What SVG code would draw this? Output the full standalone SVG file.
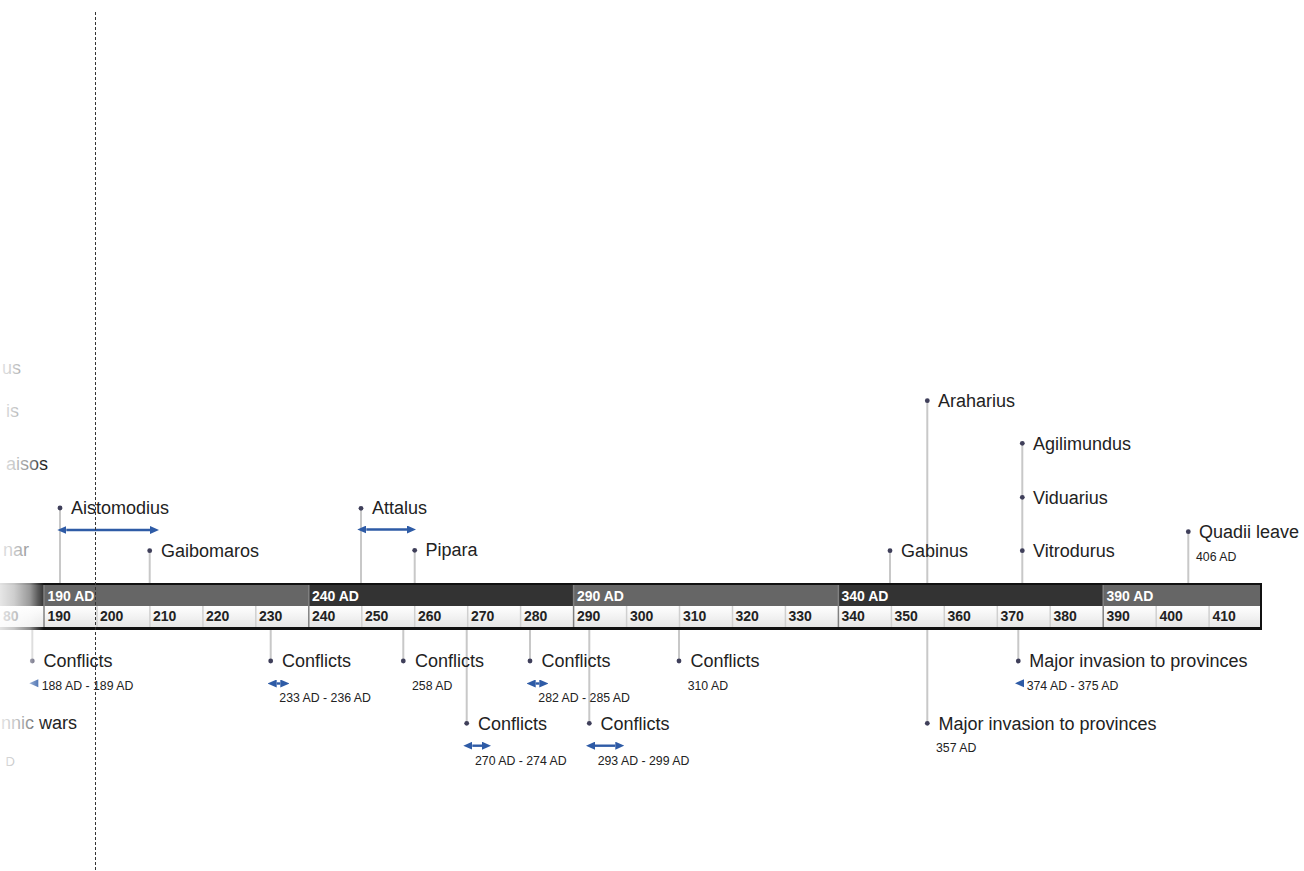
<svg xmlns="http://www.w3.org/2000/svg" width="1304" height="871" viewBox="0 0 1304 871">
<style>
.t{font-family:"Liberation Sans",Arial,sans-serif;font-size:18px;fill:#222}
.d{font-family:"Liberation Sans",Arial,sans-serif;font-size:12.3px;fill:#222}
.ax{font-family:"Liberation Sans",Arial,sans-serif;font-size:14px;font-weight:bold}
.axt{fill:#fff}
.axb{fill:#222}
.dot{fill:#3f3f5a}
.stem{stroke:#c8c8c8;stroke-width:2;fill:none}
.span{stroke:#2e5ba6;stroke-width:2.4;fill:none;marker-start:url(#ah);marker-end:url(#ah)}
.head{fill:#2e5ba6}
.tick{stroke:#d0d0d0;stroke-width:1.5}
.bnd{stroke:#808080;stroke-width:1.5}
.dk{fill:#333}
.gy{fill:#666}
</style>
<defs>
<marker id="ah" viewBox="0 0 9 8" refX="0" refY="4" markerWidth="9" markerHeight="8" markerUnits="userSpaceOnUse" orient="auto-start-reverse">
<path d="M0,0 L9,4 L0,8 z" fill="#2e5ba6"/>
</marker>
<linearGradient id="low" x1="0" y1="0" x2="0" y2="1">
<stop offset="0" stop-color="#ffffff"/>
<stop offset="1" stop-color="#e6e6e6"/>
</linearGradient>
<linearGradient id="fade" x1="0" y1="0" x2="1" y2="0">
<stop offset="0" stop-color="#fff" stop-opacity="0.88"/>
<stop offset="0.32" stop-color="#fff" stop-opacity="0.76"/>
<stop offset="0.68" stop-color="#fff" stop-opacity="0.5"/>
<stop offset="0.86" stop-color="#fff" stop-opacity="0.2"/>
<stop offset="1" stop-color="#fff" stop-opacity="0"/>
</linearGradient>
</defs>
<rect x="0" y="0" width="1304" height="871" fill="#fff"/>

<g id="connectors">
<line class="stem" x1="60" y1="508" x2="60" y2="583"/>
<line class="stem" x1="149.7" y1="551" x2="149.7" y2="583"/>
<line class="stem" x1="361" y1="508" x2="361" y2="583"/>
<line class="stem" x1="414.7" y1="550" x2="414.7" y2="583"/>
<line class="stem" x1="890" y1="551" x2="890" y2="583"/>
<line class="stem" x1="927.3" y1="401" x2="927.3" y2="583"/>
<line class="stem" x1="1022.3" y1="443" x2="1022.3" y2="583"/>
<line class="stem" x1="1188.3" y1="532" x2="1188.3" y2="583"/>
<line class="stem" x1="32.3" y1="630" x2="32.3" y2="661"/>
<line class="stem" x1="270.7" y1="630" x2="270.7" y2="661"/>
<line class="stem" x1="403.3" y1="630" x2="403.3" y2="661"/>
<line class="stem" x1="466.7" y1="630" x2="466.7" y2="723"/>
<line class="stem" x1="530" y1="630" x2="530" y2="661"/>
<line class="stem" x1="589.3" y1="630" x2="589.3" y2="723"/>
<line class="stem" x1="679" y1="630" x2="679" y2="661"/>
<line class="stem" x1="927.3" y1="630" x2="927.3" y2="723"/>
<line class="stem" x1="1018.3" y1="630" x2="1018.3" y2="661"/>
</g>

<g id="axis">
<rect class="dk" x="-10" y="585" width="54" height="21"/>
<rect class="gy" x="44" y="585" width="264.8" height="21"/>
<rect class="dk" x="308.8" y="585" width="264.8" height="21"/>
<rect class="gy" x="573.6" y="585" width="264.8" height="21"/>
<rect class="dk" x="838.4" y="585" width="264.8" height="21"/>
<rect class="gy" x="1103.2" y="585" width="157.8" height="21"/>
<rect x="-10" y="606" width="1271" height="21" fill="url(#low)"/>
<g>
<line class="tick" x1="97" y1="606" x2="97" y2="627"/>
<line class="tick" x1="149.9" y1="606" x2="149.9" y2="627"/>
<line class="tick" x1="202.9" y1="606" x2="202.9" y2="627"/>
<line class="tick" x1="255.8" y1="606" x2="255.8" y2="627"/>
<line class="tick" x1="361.8" y1="606" x2="361.8" y2="627"/>
<line class="tick" x1="414.7" y1="606" x2="414.7" y2="627"/>
<line class="tick" x1="467.7" y1="606" x2="467.7" y2="627"/>
<line class="tick" x1="520.6" y1="606" x2="520.6" y2="627"/>
<line class="tick" x1="626.6" y1="606" x2="626.6" y2="627"/>
<line class="tick" x1="679.5" y1="606" x2="679.5" y2="627"/>
<line class="tick" x1="732.5" y1="606" x2="732.5" y2="627"/>
<line class="tick" x1="785.4" y1="606" x2="785.4" y2="627"/>
<line class="tick" x1="891.4" y1="606" x2="891.4" y2="627"/>
<line class="tick" x1="944.3" y1="606" x2="944.3" y2="627"/>
<line class="tick" x1="997.3" y1="606" x2="997.3" y2="627"/>
<line class="tick" x1="1050.2" y1="606" x2="1050.2" y2="627"/>
<line class="tick" x1="1156.2" y1="606" x2="1156.2" y2="627"/>
<line class="tick" x1="1209.1" y1="606" x2="1209.1" y2="627"/>
<line class="bnd" x1="44" y1="585" x2="44" y2="627"/>
<line class="bnd" x1="308.8" y1="585" x2="308.8" y2="627"/>
<line class="bnd" x1="573.6" y1="585" x2="573.6" y2="627"/>
<line class="bnd" x1="838.4" y1="585" x2="838.4" y2="627"/>
<line class="bnd" x1="1103.2" y1="585" x2="1103.2" y2="627"/>
</g>
<line x1="-10" y1="584" x2="1262" y2="584" stroke="#111" stroke-width="2"/>
<rect x="-10" y="627" width="1272" height="3" fill="#111"/>
<line x1="1261" y1="583" x2="1261" y2="630" stroke="#111" stroke-width="2"/>
<text class="ax axt" x="47.5" y="601">190 AD</text>
<text class="ax axt" x="312" y="601">240 AD</text>
<text class="ax axt" x="577" y="601">290 AD</text>
<text class="ax axt" x="841.5" y="601">340 AD</text>
<text class="ax axt" x="1106.5" y="601">390 AD</text>
<text class="ax axb" x="3" y="621">80</text>
<text class="ax axb" x="47.5" y="621">190</text>
<text class="ax axb" x="100" y="621">200</text>
<text class="ax axb" x="153" y="621">210</text>
<text class="ax axb" x="206" y="621">220</text>
<text class="ax axb" x="259" y="621">230</text>
<text class="ax axb" x="312" y="621">240</text>
<text class="ax axb" x="365" y="621">250</text>
<text class="ax axb" x="418" y="621">260</text>
<text class="ax axb" x="471" y="621">270</text>
<text class="ax axb" x="524" y="621">280</text>
<text class="ax axb" x="577" y="621">290</text>
<text class="ax axb" x="630" y="621">300</text>
<text class="ax axb" x="683" y="621">310</text>
<text class="ax axb" x="735.5" y="621">320</text>
<text class="ax axb" x="788.5" y="621">330</text>
<text class="ax axb" x="841.5" y="621">340</text>
<text class="ax axb" x="894.5" y="621">350</text>
<text class="ax axb" x="947.5" y="621">360</text>
<text class="ax axb" x="1000.5" y="621">370</text>
<text class="ax axb" x="1053.5" y="621">380</text>
<text class="ax axb" x="1106.5" y="621">390</text>
<text class="ax axb" x="1159.5" y="621">400</text>
<text class="ax axb" x="1212.5" y="621">410</text>
</g>

<g id="ev-left-1"><text class="t" x="21" y="374" text-anchor="end">us</text></g>
<g id="ev-left-2"><text class="t" x="19" y="417" text-anchor="end">is</text></g>
<g id="ev-left-3"><text class="t" x="48" y="470" text-anchor="end">aisos</text></g>
<g id="ev-left-4"><text class="t" x="29" y="556" text-anchor="end">nar</text></g>
<g id="ev-left-5"><text class="t" x="77" y="729" text-anchor="end">nnic wars</text><text class="d" x="15" y="766" text-anchor="end" style="font-size:13px">D</text></g>

<g id="ev-aistomodius">
<circle class="dot" cx="60" cy="508" r="2.4"/>
<text class="t" x="71" y="514">Aistomodius</text>
<line class="span" x1="66.3" y1="530" x2="150" y2="530"/>
</g>
<g id="ev-gaibomaros">
<circle class="dot" cx="149.7" cy="550.7" r="2.4"/>
<text class="t" x="161" y="557">Gaibomaros</text>
</g>
<g id="ev-attalus">
<circle class="dot" cx="361" cy="508.3" r="2.4"/>
<text class="t" x="372" y="514">Attalus</text>
<line class="span" x1="366.3" y1="529.5" x2="407" y2="529.5"/>
</g>
<g id="ev-pipara">
<circle class="dot" cx="414.7" cy="550.3" r="2.4"/>
<text class="t" x="425.5" y="556">Pipara</text>
</g>
<g id="ev-gabinus">
<circle class="dot" cx="890" cy="550.7" r="2.4"/>
<text class="t" x="901" y="557">Gabinus</text>
</g>
<g id="ev-araharius">
<circle class="dot" cx="927.3" cy="400.7" r="2.4"/>
<text class="t" x="938" y="407">Araharius</text>
</g>
<g id="ev-agilimundus">
<circle class="dot" cx="1022.3" cy="443.3" r="2.4"/>
<text class="t" x="1033" y="449.5">Agilimundus</text>
</g>
<g id="ev-viduarius">
<circle class="dot" cx="1022.3" cy="497.3" r="2.4"/>
<text class="t" x="1033" y="503.5">Viduarius</text>
</g>
<g id="ev-vitrodurus">
<circle class="dot" cx="1022.3" cy="550.7" r="2.4"/>
<text class="t" x="1033" y="557">Vitrodurus</text>
</g>
<g id="ev-quadii">
<circle class="dot" cx="1188.3" cy="531.7" r="2.4"/>
<text class="t" x="1199" y="538">Quadii leave</text>
<text class="d" x="1196" y="561">406 AD</text>
</g>

<g id="ev-conflicts-188">
<circle class="dot" cx="32.3" cy="661" r="2.4"/>
<text class="t" x="43.5" y="667">Conflicts</text>
<polygon class="head" points="29.3,683.3 38.3,679.3 38.3,687.3"/>
<text class="d" x="41.7" y="690">188 AD - 189 AD</text>
</g>
<g id="ev-conflicts-233">
<circle class="dot" cx="270.7" cy="661" r="2.4"/>
<text class="t" x="282" y="667">Conflicts</text>
<line class="span" x1="276.7" y1="683.5" x2="280.3" y2="683.5"/>
<text class="d" x="279.3" y="702">233 AD - 236 AD</text>
</g>
<g id="ev-conflicts-258">
<circle class="dot" cx="403.3" cy="661" r="2.4"/>
<text class="t" x="415" y="667">Conflicts</text>
<text class="d" x="412" y="690">258 AD</text>
</g>
<g id="ev-conflicts-270">
<circle class="dot" cx="466.7" cy="723.3" r="2.4"/>
<text class="t" x="478" y="729.5">Conflicts</text>
<line class="span" x1="472.3" y1="745.7" x2="482" y2="745.7"/>
<text class="d" x="475" y="764.5">270 AD - 274 AD</text>
</g>
<g id="ev-conflicts-282">
<circle class="dot" cx="530" cy="661" r="2.4"/>
<text class="t" x="541.5" y="667">Conflicts</text>
<line class="span" x1="535.7" y1="683.5" x2="539.3" y2="683.5"/>
<text class="d" x="538.3" y="702">282 AD - 285 AD</text>
</g>
<g id="ev-conflicts-293">
<circle class="dot" cx="589.3" cy="723.3" r="2.4"/>
<text class="t" x="600.5" y="729.5">Conflicts</text>
<line class="span" x1="595" y1="745.7" x2="615.3" y2="745.7"/>
<text class="d" x="597.7" y="764.5">293 AD - 299 AD</text>
</g>
<g id="ev-conflicts-310">
<circle class="dot" cx="679" cy="661" r="2.4"/>
<text class="t" x="690.5" y="667">Conflicts</text>
<text class="d" x="687.7" y="690">310 AD</text>
</g>
<g id="ev-invasion-357">
<circle class="dot" cx="927.3" cy="723.3" r="2.4"/>
<text class="t" x="938.5" y="729.5">Major invasion to provinces</text>
<text class="d" x="936" y="752">357 AD</text>
</g>
<g id="ev-invasion-374">
<circle class="dot" cx="1018.3" cy="661" r="2.4"/>
<text class="t" x="1029.3" y="667">Major invasion to provinces</text>
<polygon class="head" points="1015,683.3 1024,679.3 1024,687.3"/>
<text class="d" x="1026.7" y="690">374 AD - 375 AD</text>
</g>

<rect x="0" y="0" width="44" height="871" fill="url(#fade)"/>
<line id="cursor" x1="95.5" y1="12" x2="95.5" y2="871" stroke="#333" stroke-width="1" stroke-dasharray="3,2"/>
</svg>
